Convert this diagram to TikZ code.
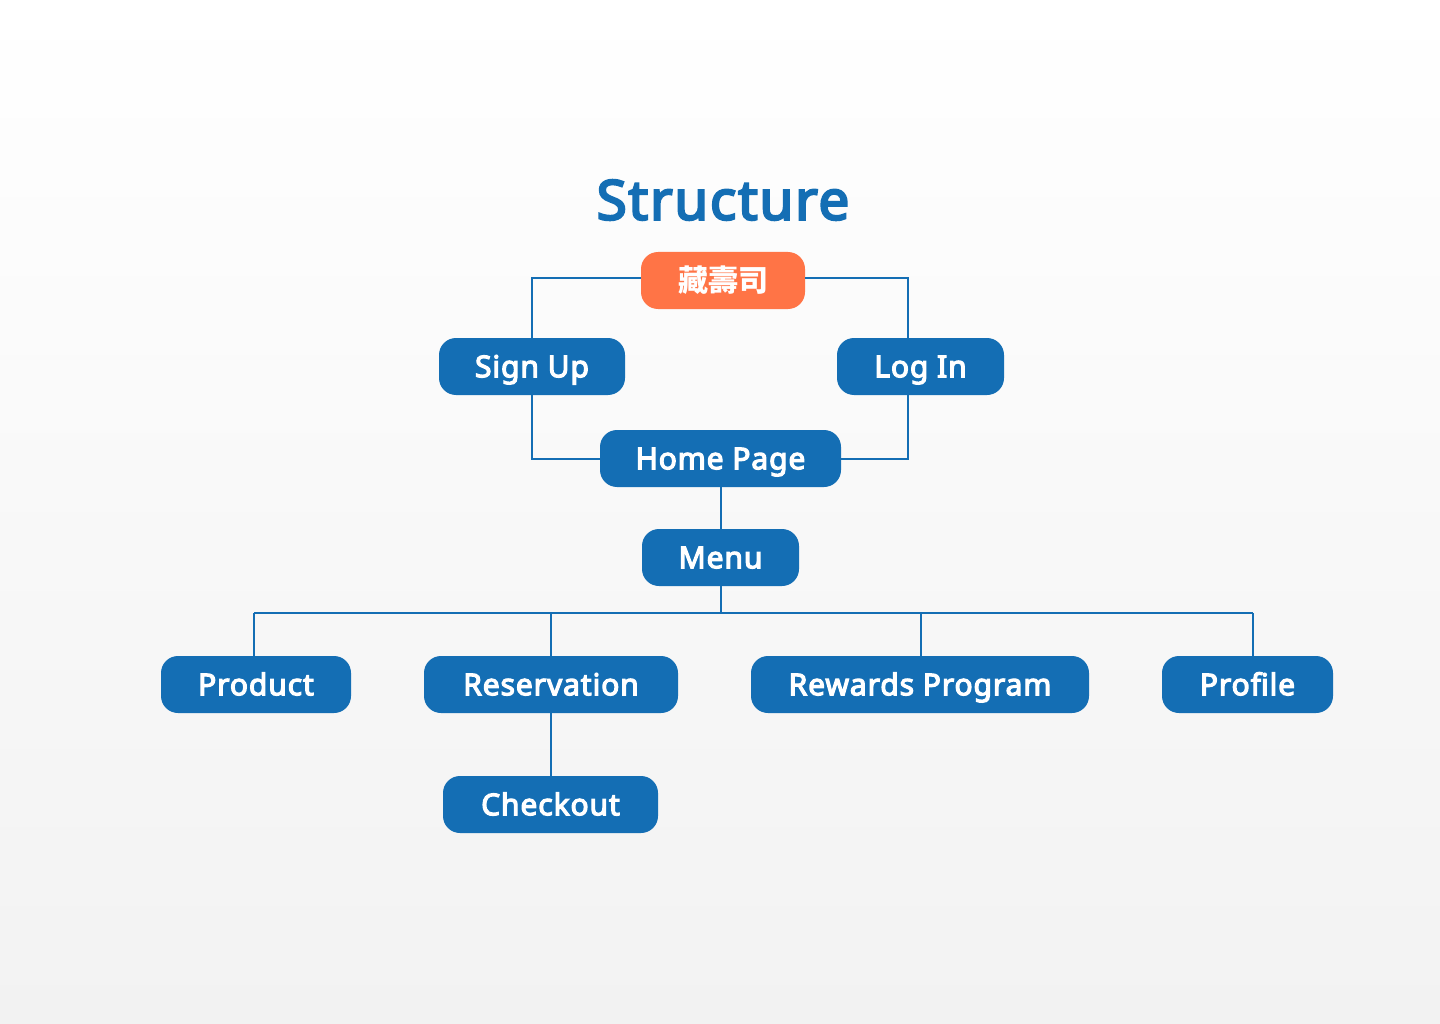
\documentclass[tikz,border=0pt]{standalone}
\usepackage{fontspec}
\setmainfont{Noto Sans}[BoldFont={Noto Sans}, BoldFeatures={FakeBold=4, LetterSpace=3}]
\newfontfamily\cjk{Noto Sans CJK TC}
\definecolor{sblue}{HTML}{146EB4}
\definecolor{sorange}{HTML}{FF7446}
\definecolor{bgbot}{HTML}{F2F2F2}
\begin{document}
\begin{tikzpicture}[x=1pt,y=-1pt,
  box/.style={rounded corners=17pt, fill=sblue, text=white,
    font=\bfseries\fontsize{30}{36}\selectfont, minimum height=57pt,
    inner sep=0pt, text height=21.4pt, text depth=0pt},
  link/.style={draw=sblue, line width=2pt}]
\shade[top color=white, bottom color=bgbot] (0,0) rectangle (1440,1024);
\useasboundingbox (0,0) rectangle (1440,1024);

\node[font=\bfseries\fontsize{55}{60}\selectfont\addfontfeature{LetterSpace=4.5}, text=sblue, inner sep=0pt,
  text height=39.3pt, text depth=0pt] (title) at (723,200) {Structure};

\node[box, fill=sorange, minimum width=164pt] (top) at (723,280.5) {\cjk\bfseries 藏壽司};
\node[box, minimum width=186pt] (signup) at (532,366.5) {Sign Up};
\node[box, minimum width=167pt] (login) at (920.5,366.5) {Log In};
\node[box, minimum width=241pt] (home) at (720.5,458.5) {Home Page};
\node[box, minimum width=157pt] (menu) at (720.5,557.5) {Menu};
\node[box, minimum width=190pt] (product) at (256,684.5) {Product};
\node[box, minimum width=254pt] (reserv) at (551,684.5) {Reservation};
\node[box, minimum width=338pt] (rewards) at (920,684.5) {Rewards Program};
\node[box, minimum width=171pt] (profile) at (1247.5,684.5) {Profile};
\node[box, minimum width=215pt] (checkout) at (550.5,804.5) {Checkout};

\coordinate (lx) at (908,0);
\coordinate (bus) at (0,613);
\coordinate (px) at (254,0);
\coordinate (rx) at (1253,0);

\draw[link] (top.west |- 0,278) -| (signup.north);
\draw[link] (top.east |- 0,278) -| (lx |- login.north);
\draw[link] (signup.south) |- (home.west);
\draw[link] (lx |- login.south) |- (home.east);
\draw[link] (home.south) -- (menu.north);
\draw[link] (menu.south) -- (menu.south |- bus);
\draw[link] (px |- bus) -- (rx |- bus);
\draw[link] (px |- bus) -- (px |- product.north);
\draw[link] (reserv.north |- bus) -- (reserv.north);
\draw[link] ([xshift=1pt]rewards.north |- bus) -- ([xshift=1pt]rewards.north);
\draw[link] (rx |- bus) -- (rx |- profile.north);
\draw[link] (reserv.south) -- (reserv.south |- checkout.north);
\end{tikzpicture}
\end{document}
